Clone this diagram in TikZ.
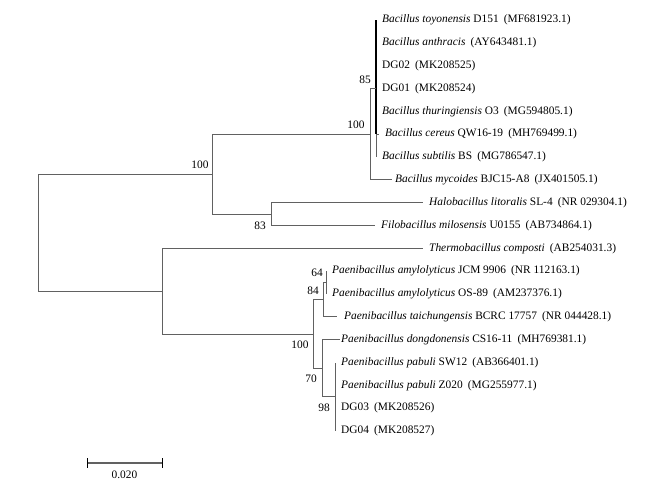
\documentclass[tikz,border=0pt]{standalone}
\usepackage{fontspec}
\setmainfont{Liberation Serif}
\usetikzlibrary{calc}
\newcommand\acc[1]{\hspace{0.45em}(#1)}
\begin{document}
\begin{tikzpicture}[x=1pt,y=-1pt,
  br/.style={draw=black!62, line width=0.9pt},
  tx/.style={anchor=west, inner sep=0pt, font=\fontsize{11.4}{12}\selectfont},
  bs/.style={inner sep=0pt, font=\fontsize{11.4}{12}\selectfont},
]
\useasboundingbox (0,0) rectangle (650,483);
% leaf y positions
\def\ya{20}\def\yb{42.8}\def\yc{65.7}\def\yd{88.5}\def\ye{111.3}\def\yf{134.2}\def\yg{157}
\def\yh{179.8}\def\yi{202.7}\def\yj{225.5}\def\yk{248.3}\def\yl{271.2}\def\ym{294}
\def\yn{316.8}\def\yo{339.7}\def\yp{362.5}\def\yq{385.3}\def\yr{408.2}\def\ys{431}
% tips
\coordinate (t1) at (376,\ya);
\coordinate (t2) at (376,\yb);
\coordinate (t3) at (376,\yc);
\coordinate (t4) at (376,\yd);
\coordinate (t5) at (376,\ye);
\coordinate (t6) at (379,\yf);
\coordinate (t7) at (376,\yg);
\coordinate (t8) at (392,\yh);
\coordinate (t9) at (423,\yi);
\coordinate (t10) at (375,\yj);
\coordinate (t11) at (423,\yk);
\coordinate (t12) at (326,\yl);
\coordinate (t13) at (326,\ym);
\coordinate (t14) at (337,\yn);
\coordinate (t15) at (340,\yo);
\coordinate (t16) at (335,\yp);
\coordinate (t17) at (335,\yq);
\coordinate (t18) at (335,\yr);
\coordinate (t19) at (335,\ys);
% internal nodes
\coordinate (S) at (376,88.5);
\coordinate (B1) at (370,134.2);
\coordinate (H) at (271,214.1);
\coordinate (G) at (212,174.1);
\coordinate (A) at (326,282.6);
\coordinate (B) at (323,299.7);
\coordinate (E) at (335,396.8);
\coordinate (D) at (322,368.2);
\coordinate (C) at (313,334);
\coordinate (F) at (162,291.2);
\coordinate (R) at (38,232.6);
% labels
\node[tx] (l1) at (382,\ya) {\textit{Bacillus toyonensis} D151\acc{MF681923.1}};
\node[tx] (l2) at (382,\yb) {\textit{Bacillus anthracis}\acc{AY643481.1}};
\node[tx] (l3) at (382,\yc) {DG02\acc{MK208525}};
\node[tx] (l4) at (382,\yd) {DG01\acc{MK208524}};
\node[tx] (l5) at (382,\ye) {\textit{Bacillus thuringiensis} O3\acc{MG594805.1}};
\node[tx] (l6) at (385,\yf) {\textit{Bacillus cereus} QW16-19\acc{MH769499.1}};
\node[tx] (l7) at (382,\yg) {\textit{Bacillus subtilis} BS\acc{MG786547.1}};
\node[tx] (l8) at (395,\yh) {\textit{Bacillus mycoides} BJC15-A8\acc{JX401505.1}};
\node[tx] (l9) at (429,\yi) {\textit{Halobacillus litoralis} SL-4\acc{NR 029304.1}};
\node[tx] (l10) at (381,\yj) {\textit{Filobacillus milosensis} U0155\acc{AB734864.1}};
\node[tx] (l11) at (429,\yk) {\textit{Thermobacillus composti}\acc{AB254031.3}};
\node[tx] (l12) at (332,\yl) {\textit{Paenibacillus amylolyticus} JCM 9906\acc{NR 112163.1}};
\node[tx] (l13) at (332,\ym) {\textit{Paenibacillus amylolyticus} OS-89\acc{AM237376.1}};
\node[tx] (l14) at (344,\yn) {\textit{Paenibacillus taichungensis} BCRC 17757\acc{NR 044428.1}};
\node[tx] (l15) at (341,\yo) {\textit{Paenibacillus dongdonensis} CS16-11\acc{MH769381.1}};
\node[tx] (l16) at (341,\yp) {\textit{Paenibacillus pabuli} SW12\acc{AB366401.1}};
\node[tx] (l17) at (341,\yq) {\textit{Paenibacillus pabuli} Z020\acc{MG255977.1}};
\node[tx] (l18) at (341,\yr) {DG03\acc{MK208526}};
\node[tx] (l19) at (341,\ys) {DG04\acc{MK208527}};
% branches
\foreach \t in {t1,t2,t3,t4,t5,t6,t7} \draw[br] (S) |- (\t);
\draw[black, line width=1.8pt] (t1) -- (S |- t6);
\draw[br] (B1) |- (S);
\draw[br] (B1) |- (t8);
\draw[br] (H) |- (t9);
\draw[br] (H) |- (t10);
\draw[br] (G) |- (B1);
\draw[br] (G) |- (H);
\draw[br] (A) |- (t12);
\draw[br] (A) |- (t13);
\draw[br] (B) |- (A);
\draw[br] (B) |- (t14);
\foreach \t in {t16,t17,t18,t19} \draw[br] (E) |- (\t);
\draw[br] (D) |- (t15);
\draw[br] (D) |- (E);
\draw[br] (C) |- (B);
\draw[br] (C) |- (D);
\draw[br] (F) |- (t11);
\draw[br] (F) |- (C);
\draw[br] (R) |- (G);
\draw[br] (R) |- (F);
% bootstrap values
\node[bs] (b85) at (365,80) {85};
\node[bs] (b100a) at (356,125) {100};
\node[bs] (b100b) at (200,165) {100};
\node[bs] (b83) at (260,225.5) {83};
\node[bs] (b64) at (317,273) {64};
\node[bs] (b84) at (313,291) {84};
\node[bs] (b100c) at (300,345) {100};
\node[bs] (b70) at (311,379) {70};
\node[bs] (b98) at (324,407.5) {98};
% scale bar
\coordinate (s1) at (87,463);
\coordinate (s2) at (162,463);
\draw[br, line width=1.3pt] (s1) -- (s2);
\draw[black, line width=0.8pt] ($(s1)+(0,-5)$) -- ($(s1)+(0,5)$);
\draw[black, line width=0.8pt] ($(s2)+(0,-5)$) -- ($(s2)+(0,5)$);
\node[bs] (scl) at (124.5,475) {0.020};
\end{tikzpicture}
\end{document}
